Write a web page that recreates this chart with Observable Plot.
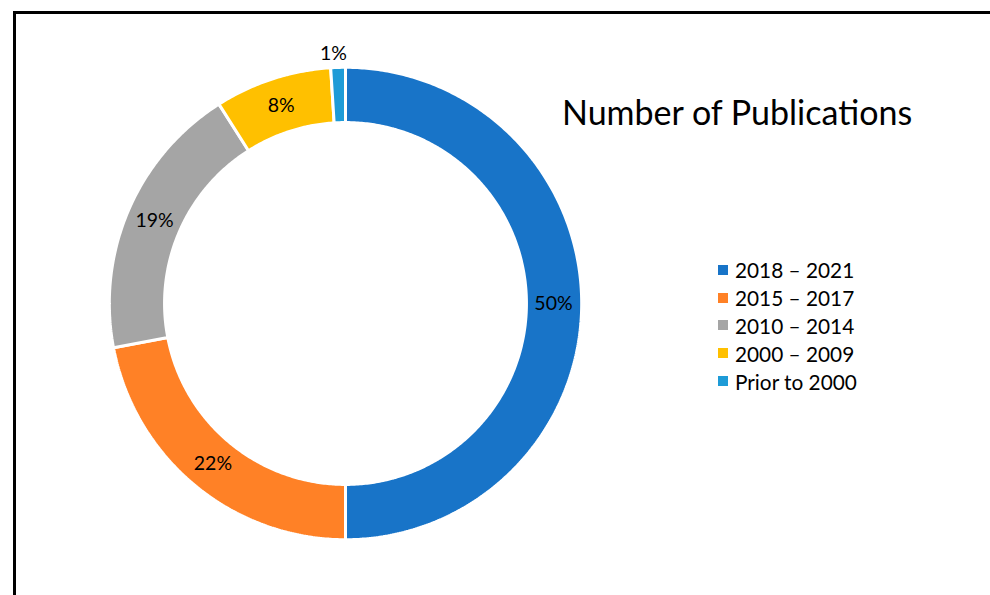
<!DOCTYPE html>
<html>
<head>
<meta charset="utf-8">
<script src="https://cdn.jsdelivr.net/npm/d3@7"></script>
<script src="https://cdn.jsdelivr.net/npm/@observablehq/plot@0.6"></script>
<style>
  html, body { margin: 0; padding: 0; background: #fff; }
  #wrap { position: relative; width: 990px; height: 595px; overflow: hidden; font-family: Lato, "Open Sans", sans-serif; }
  #frame { position: absolute; left: 13px; top: 11px; width: 990px; height: 600px; border-left: 3px solid #000; border-top: 3px solid #000; box-sizing: border-box; }
  #chart { position: absolute; left: 0; top: 0; }
  #title { position: absolute; left: 562px; top: 95px; font-size: 34px; color: #000; white-space: nowrap; line-height: 1; }
  #legend { position: absolute; left: 718px; top: 256px; }
  .row { display: flex; align-items: center; height: 27.8px; font-size: 20.8px; color: #000; white-space: nowrap; }
  .sw { width: 10px; height: 10px; margin-right: 7px; }
</style>
</head>
<body>
<div id="wrap">
  <div id="frame"></div>
  <div id="chart"></div>
  <div id="title">Number of Publications</div>
  <div id="legend"></div>
</div>
<script>
const categories = ["2018 – 2021", "2015 – 2017", "2010 – 2014", "2000 – 2009", "Prior to 2000"];
const values = [50, 22, 19, 8, 1];
const labels = ["50%", "22%", "19%", "8%", "1%"];
const colors = ["#1874C8", "#FF8126", "#A5A5A5", "#FFC000", "#1E9BD7"];

const outerR = 1.005, innerR = 0.77, labelR = 0.885;
const pie = d3.pie().sort(null).value(d => d.value);
const data = categories.map((c, i) => ({cat: c, value: values[i], label: labels[i]}));
const arcs = pie(data);

// polygon vertices of each ring sector (angle measured clockwise from top)
const pts = [];
arcs.forEach(a => {
  const n = Math.max(8, Math.ceil((a.endAngle - a.startAngle) / 0.01));
  const ring = [];
  for (let k = 0; k <= n; k++) {
    const t = a.startAngle + (a.endAngle - a.startAngle) * k / n;
    ring.push({x: outerR * Math.sin(t), y: outerR * Math.cos(t)});
  }
  for (let k = n; k >= 0; k--) {
    const t = a.startAngle + (a.endAngle - a.startAngle) * k / n;
    ring.push({x: innerR * Math.sin(t), y: innerR * Math.cos(t)});
  }
  ring.push(ring[0]);
  ring.forEach(p => pts.push({...p, cat: a.data.cat}));
});

const labelPts = arcs.map(a => {
  const m = (a.startAngle + a.endAngle) / 2;
  const r = a.data.value < 3 ? 1.065 : labelR;
  const mm = a.data.value < 3 ? m - 0.017 : m;
  return {x: r * Math.sin(mm), y: r * Math.cos(mm), label: a.data.label};
});

const plot = Plot.plot({
  width: 990,
  height: 595,
  margin: 0,
  x: {domain: [-1, 1], range: [110, 580], axis: null},
  y: {domain: [-1, 1], range: [538, 68], axis: null},
  color: {domain: categories, range: colors},
  marks: [
    Plot.line(pts, {x: "x", y: "y", z: "cat", fill: "cat", stroke: "white", strokeWidth: 3, strokeLinejoin: "miter", curve: "linear"}),
    Plot.text(labelPts, {x: "x", y: "y", text: "label", fontSize: 19.5, fill: "#000", fontFamily: "Lato, 'Open Sans', sans-serif"})
  ]
});
document.getElementById("chart").appendChild(plot);

const legend = document.getElementById("legend");
categories.forEach((c, i) => {
  const row = document.createElement("div");
  row.className = "row";
  const sw = document.createElement("div");
  sw.className = "sw";
  sw.style.background = colors[i];
  const tx = document.createElement("span");
  tx.textContent = c;
  row.appendChild(sw); row.appendChild(tx);
  legend.appendChild(row);
});
</script>
</body>
</html>
